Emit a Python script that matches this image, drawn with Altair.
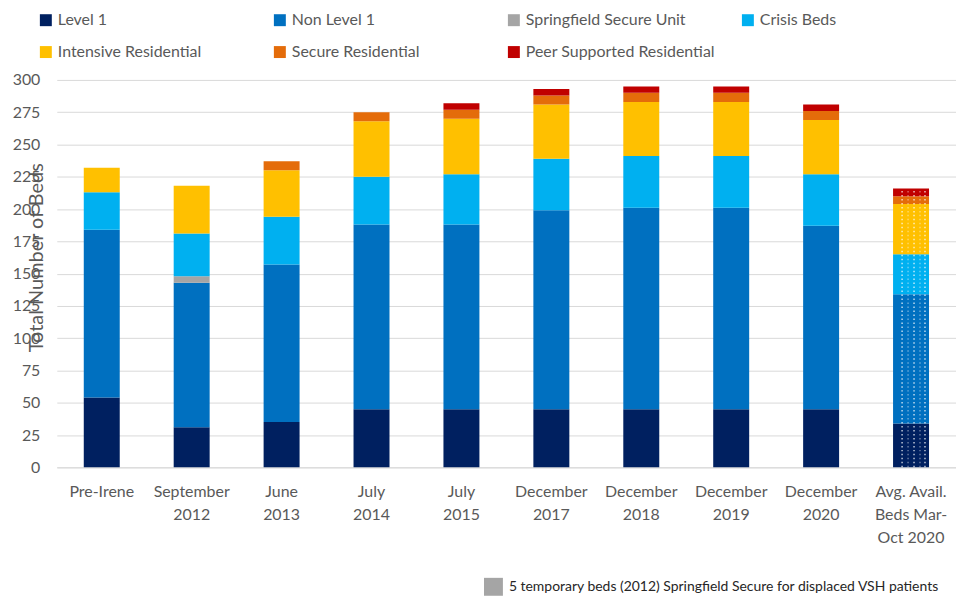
import altair as alt
import pandas as pd

categories = ["Pre-Irene", "September|2012", "June|2013", "July|2014", "July|2015",
              "December|2017", "December|2018", "December|2019", "December|2020",
              "Avg. Avail.|Beds Mar-|Oct 2020"]
series = ["Level 1", "Non Level 1", "Springfield Secure Unit", "Crisis Beds",
          "Intensive Residential", "Secure Residential", "Peer Supported Residential"]
colors = ["#002060", "#0070C0", "#A5A5A5", "#00B0F0", "#FFC000", "#E46C0A", "#C00000"]

level1 = [54, 31, 35, 45, 45, 45, 45, 45, 45, 34]
non_level1 = [130, 112, 122, 143, 143, 154, 156, 156, 142, 100]
springfield = [0, 5, 0, 0, 0, 0, 0, 0, 0, 0]
crisis = [29, 33, 37, 37, 39, 40, 40, 40, 40, 31]
intensive = [19, 37, 36, 43, 43, 42, 42, 42, 42, 39]
secure = [0, 0, 7, 7, 7, 7, 7, 7, 7, 6]
peer = [0, 0, 0, 0, 5, 5, 5, 5, 5, 6]

y_ticks = [0, 25, 50, 75, 100, 125, 150, 175, 200, 225, 250, 275, 300]
note_text = "5 temporary beds (2012) Springfield Secure for displaced VSH patients"

values = [level1, non_level1, springfield, crisis, intensive, secure, peer]
rows = []
for si, (s, vals) in enumerate(zip(series, values)):
    for c, v in zip(categories, vals):
        rows.append({"category": c, "series": s, "value": v, "idx": si})
df = pd.DataFrame(rows)

totals = [sum(v[i] for v in values) for i in range(len(categories))]
df_tot = pd.DataFrame({"category": categories, "total": totals, "base": [0] * len(categories)})

FONT = "Lato"
GRAY = "#595959"

x_axis = alt.Axis(title=None, labelExpr="split(datum.label, '|')", labelAngle=0,
                  labelFont=FONT, labelFontSize=16, labelColor=GRAY,
                  labelLineHeight=23.5, labelPadding=16, ticks=False,
                  domain=True, domainColor="#D9D9D9", labelBaseline="top")
x_scale = alt.Scale(paddingInner=0.6, paddingOuter=0.3)

y_axis = alt.Axis(values=y_ticks, title="Total Number of Beds",
                  labelFont=FONT, labelFontSize=16, labelColor=GRAY,
                  labelOverlap=False,
                  labelPadding=17, ticks=False, tickSize=0, domain=False,
                  gridColor="#D9D9D9", gridWidth=1,
                  titleFont=FONT, titleFontSize=20, titleFontWeight="normal",
                  titleColor=GRAY, titleX=-20, titleY=178, titleAngle=-90,
                  titleAlign="center", titleBaseline="middle")
y_scale = alt.Scale(domain=[0, 300], nice=False)

bars = alt.Chart(df).mark_bar().encode(
    x=alt.X("category:N", sort=categories, scale=x_scale, axis=x_axis),
    y=alt.Y("value:Q", stack="zero", scale=y_scale, axis=y_axis),
    color=alt.Color("series:N", scale=alt.Scale(domain=series, range=colors),
                    legend=alt.Legend(title=None, orient="none", legendX=-19, legendY=-68,
                                      columns=4, direction="horizontal", gridAlign="all",
                                      columnPadding=25, rowPadding=16, labelLimit=400,
                                      symbolType="square", symbolSize=144,
                                      symbolStrokeWidth=0, labelOffset=4,
                                      labelFont=FONT, labelFontSize=16, labelColor=GRAY,
                                      padding=0)),
    order=alt.Order("idx:Q", sort="ascending"),
)

pattern_layers = []
for off, op in [(-9, 0.85), (-3, 0.45), (3, 0.85), (9, 0.45), (14, 0.85)]:
    pattern_layers.append(
        alt.Chart(df_tot).transform_filter(alt.datum.category == categories[-1])
        .mark_rule(color="white", strokeDash=[1.5, 2.5], strokeWidth=1.3, xOffset=off, opacity=op)
        .encode(x=alt.X("category:N", sort=categories, scale=x_scale, axis=x_axis),
                y=alt.Y("base:Q", scale=y_scale, axis=y_axis), y2="total:Q")
    )

note_df = pd.DataFrame({"note": [note_text]})
note_box = alt.Chart(note_df).mark_rect(color="#A5A5A5").encode(
    x=alt.value(429), x2=alt.value(448), y=alt.value(500), y2=alt.value(518))
note = alt.Chart(note_df).mark_text(align="left", baseline="middle", font=FONT,
                                    fontSize=14, color="#262626").encode(
    text="note:N", x=alt.value(454), y=alt.value(509))

chart = alt.layer(bars, *pattern_layers, note_box, note).properties(
    width=903, height=389,
    autosize=alt.AutoSizeParams(type="none"),
    padding={"left": 49, "top": 71, "right": 0, "bottom": 129},
).configure_view(stroke=None)

chart.save("out.html", embed_options={"renderer": "svg", "actions": False})
